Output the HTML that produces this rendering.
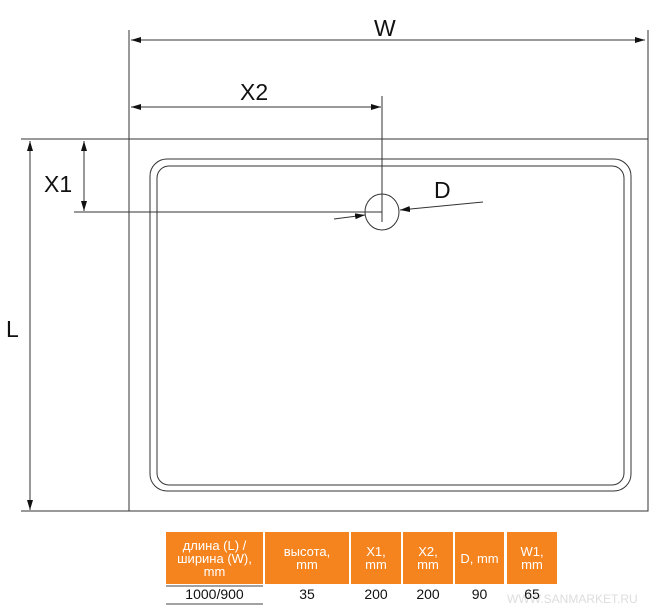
<!DOCTYPE html>
<html><head><meta charset="utf-8"><style>
body{margin:0;width:658px;height:614px;background:#fff;overflow:hidden;position:relative;font-family:"Liberation Sans",sans-serif}
svg{position:absolute;left:0;top:0}
.h{position:absolute;top:532px;height:52px;background:#f5841f;color:#fff;font-size:13px;font-weight:500;line-height:13px;text-align:center;display:flex;align-items:center;justify-content:center}
.v{position:absolute;top:586px;font-size:14px;text-align:center;color:#111}
</style></head><body>
<svg width="658" height="614">
<defs><marker id="a" viewBox="0 0 10 6" refX="10" refY="3" markerWidth="10" markerHeight="6" orient="auto-start-reverse" markerUnits="userSpaceOnUse"><path d="M0,0L10,3L0,6z" fill="#111"/></marker></defs>
<g stroke="#333" fill="none" stroke-width="1">
<rect x="129" y="139" width="519" height="372"/>
<rect x="150" y="159" width="481" height="332" rx="17"/>
<rect x="157" y="166" width="467" height="319" rx="12"/>
<line x1="21" y1="139" x2="129" y2="139"/>
<line x1="21" y1="511" x2="129" y2="511"/>
<line x1="129" y1="30" x2="129" y2="139"/>
<line x1="648" y1="30" x2="648" y2="139"/>
<line x1="382" y1="96" x2="382" y2="222"/>
<line x1="74" y1="212" x2="382" y2="212"/>
<ellipse cx="382" cy="212" rx="17" ry="18"/>
<line x1="131" y1="40" x2="645" y2="40" marker-start="url(#a)" marker-end="url(#a)"/>
<line x1="131" y1="107" x2="381" y2="107" marker-start="url(#a)" marker-end="url(#a)"/>
<line x1="30" y1="141" x2="30" y2="510" marker-start="url(#a)" marker-end="url(#a)"/>
<line x1="84" y1="141" x2="84" y2="211" marker-start="url(#a)" marker-end="url(#a)"/>
<line x1="334" y1="219" x2="365" y2="215" marker-end="url(#a)"/>
<line x1="483" y1="202" x2="400" y2="210" marker-end="url(#a)"/>
</g>
<g font-family="Liberation Sans" font-size="23" fill="#111">
<text x="374" y="36">W</text>
<text x="240" y="100">X2</text>
<text x="44" y="192">X1</text>
<text x="434" y="198">D</text>
<text x="6" y="337">L</text>
</g>
<line x1="166" y1="604" x2="263" y2="604" stroke="#444"/>
<line x1="166" y1="586" x2="263" y2="586" stroke="#444"/>
<text x="507" y="603" font-family="Liberation Sans" font-size="12" fill="#ddd">WWW.SANMARKET.RU</text>
</svg>
<div class="h" style="left:166px;width:97px">длина (L) /<br>ширина (W),<br>mm</div>
<div class="h" style="left:265px;width:84px">высота,<br>mm</div>
<div class="h" style="left:351px;width:50px">X1,<br>mm</div>
<div class="h" style="left:403px;width:50px">X2,<br>mm</div>
<div class="h" style="left:455px;width:49px">D, mm</div>
<div class="h" style="left:507px;width:50px">W1,<br>mm</div>
<div class="v" style="left:166px;width:97px">1000/900</div>
<div class="v" style="left:265px;width:84px">35</div>
<div class="v" style="left:351px;width:50px">200</div>
<div class="v" style="left:403px;width:50px">200</div>
<div class="v" style="left:455px;width:49px">90</div>
<div class="v" style="left:507px;width:50px">65</div>
</body></html>
